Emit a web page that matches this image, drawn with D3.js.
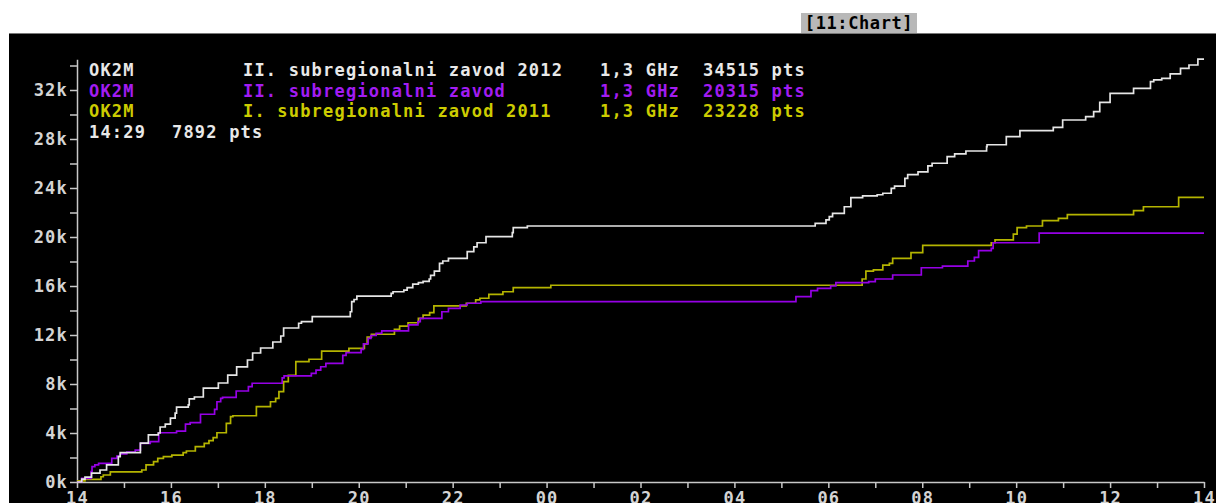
<!DOCTYPE html>
<html>
<head>
<meta charset="utf-8">
<script src="https://cdn.jsdelivr.net/npm/d3@7"></script>
<style>
  html, body { margin: 0; padding: 0; background: #fff; }
  svg { display: block; }
  text { font-family: "DejaVu Sans Mono", "Liberation Mono", monospace; }
</style>
</head>
<body>
<div id="chart"></div>
<script>
// time is in hours after 14:00, values in points
let xTickLabels = ["14", "16", "18", "20", "22", "00", "02", "04", "06", "08", "10", "12", "14"];
let yTicks = d3.range(0, 34001, 2000);

let calls = ["OK2M", "OK2M", "OK2M"];
let contests = ["II. subregionalni zavod 2012", "II. subregionalni zavod", "I. subregionalni zavod 2011"];
let bands = ["1,3 GHz", "1,3 GHz", "1,3 GHz"];
let totals = [34515, 20315, 23228];
let colors = ["#e6e6e6", "#9600e6", "#b4b400"];
let textColors = ["#e8e8e8", "#a21cf2", "#cccc00"];
let cursorLabel = ["14:29", "7892 pts"];

let series2012 = [[0,0],[0.1,240],[0.17,400],[0.31,730],[0.49,980],[0.63,1390],[0.88,2070],[0.92,2400],[1.35,3180],[1.52,3840],[1.73,4000],[1.77,4490],[1.88,4730],[1.99,5220],[2.09,5630],[2.12,6120],[2.37,6290],[2.39,6780],[2.5,6940],[2.69,7670],[3.01,8080],[3.21,8730],[3.4,9390],[3.63,9960],[3.74,10530],[3.91,10940],[4.17,11430],[4.34,11920],[4.4,12570],[4.72,12960],[4.78,13090],[5.01,13500],[5.82,13900],[5.85,14720],[5.9,14900],[5.96,15180],[6.69,15400],[6.73,15530],[6.96,15670],[7.03,15860],[7.15,16160],[7.27,16270],[7.37,16380],[7.5,16570],[7.53,16870],[7.61,17220],[7.72,17850],[7.79,18040],[7.91,18260],[8.31,18800],[8.45,19200],[8.52,19530],[8.71,20030],[9.27,20350],[9.29,20760],[9.59,20900],[15.72,21120],[15.95,21390],[16.02,21660],[16.09,21930],[16.34,22470],[16.48,23210],[16.73,23350],[17.04,23450],[17.16,23570],[17.34,23970],[17.41,24160],[17.63,24790],[17.69,25090],[17.91,25310],[18.12,25800],[18.21,26020],[18.53,26560],[18.69,26780],[18.93,27020],[19.37,27370],[19.38,27530],[19.79,28190],[20.08,28680],[20.79,28950],[20.99,29550],[21.48,29820],[21.65,30230],[21.78,30990],[22.0,31730],[22.5,32140],[22.86,32680],[22.93,32820],[23.1,32950],[23.28,33310],[23.5,33770],[23.68,34040],[23.87,34515],[24,34515]];

let seriesII = [[0,0],[0.1,300],[0.3,840],[0.32,1250],[0.38,1390],[0.46,1520],[0.74,1930],[0.85,2120],[0.92,2290],[1.06,2450],[1.24,2610],[1.35,3160],[1.56,3290],[1.74,4020],[2.12,4160],[2.31,4730],[2.41,4840],[2.63,5530],[2.93,5930],[2.98,6550],[3.06,6830],[3.1,6910],[3.39,7430],[3.65,7780],[3.73,8060],[4.37,8500],[4.41,8660],[4.99,8870],[5.09,9140],[5.19,9410],[5.3,9690],[5.66,10330],[5.73,10560],[6.05,10830],[6.1,11270],[6.2,11730],[6.26,11960],[6.37,12140],[6.49,12330],[7.06,12820],[7.26,13090],[7.31,13360],[7.77,13900],[7.91,14180],[8.16,14450],[8.31,14590],[8.6,14720],[15.31,15130],[15.63,15620],[15.77,15810],[16.05,16000],[16.16,16270],[16.86,16350],[17.0,16570],[17.37,16900],[17.98,17490],[18.43,17630],[18.97,18040],[19.11,18340],[19.2,18880],[19.47,19070],[19.51,19530],[20.49,20315],[24,20315]];

let series2011 = [[0,0],[0.02,100],[0.17,220],[0.51,430],[0.56,570],[0.71,820],[1.38,980],[1.47,1390],[1.63,1660],[1.72,1930],[1.84,2070],[2.02,2200],[2.26,2390],[2.33,2530],[2.52,2880],[2.71,3160],[2.81,3370],[2.9,3620],[2.98,4020],[3.18,4790],[3.27,5330],[3.32,5410],[3.82,6150],[4.12,6550],[4.23,6830],[4.3,7370],[4.4,8190],[4.5,8700],[4.66,9820],[4.94,10020],[5.21,10680],[5.79,10910],[6.12,11270],[6.18,11830],[6.27,12060],[6.76,12460],[6.87,12730],[7.05,13000],[7.27,13360],[7.37,13630],[7.51,13820],[7.6,14370],[8.29,14590],[8.49,14860],[8.58,15000],[8.77,15320],[9.07,15530],[9.29,15860],[10.09,16060],[16.72,16570],[16.8,17220],[16.96,17310],[17.16,17710],[17.3,17850],[17.37,18260],[17.76,18720],[18.01,19320],[19.47,19530],[19.55,19760],[19.94,20240],[20.02,20760],[20.22,20900],[20.56,21330],[20.9,21520],[21.09,21820],[22.5,22150],[22.71,22470],[23.46,23228],[24,23228]];

let allSeries = [series2012, seriesII, series2011];

let width = 1216;
let height = 503;

let svg = d3.select("#chart").append("svg")
  .attr("width", width)
  .attr("height", height);

// white title strip with the window tag
svg.append("rect").attr("x", 0).attr("y", 0).attr("width", width).attr("height", height).attr("fill", "#fff");
svg.append("rect").attr("x", 801).attr("y", 13).attr("width", 116).attr("height", 20).attr("fill", "#b8b8b8");
svg.append("text")
  .attr("x", 859).attr("y", 29)
  .attr("text-anchor", "middle")
  .attr("font-size", 17).attr("font-weight", "bold")
  .attr("letter-spacing", 0.6)
  .attr("fill", "#000")
  .text("[11:Chart]");

// black chart window
svg.append("rect").attr("x", 9).attr("y", 33).attr("width", width - 9).attr("height", height - 33).attr("fill", "#000");
svg.append("line").attr("x1", 9).attr("x2", width).attr("y1", 33.5).attr("y2", 33.5).attr("stroke", "#777");

let x = d3.scaleLinear().domain([0, 24]).range([77, 1204]);
let y = d3.scaleLinear().domain([0, d3.max(totals)]).range([482, 482 - 34.515 * 12.25]);

let fontSize = 17;
let spacing = 1.2;

let xAxis = d3.axisBottom(x)
  .tickValues(d3.range(0, 25, 1))
  .tickSizeInner(6).tickSizeOuter(0).tickPadding(4)
  .tickFormat(d => d % 2 === 0 ? xTickLabels[d / 2] : "");

let yAxis = d3.axisLeft(y)
  .tickValues(yTicks)
  .tickSizeInner(7).tickSizeOuter(0).tickPadding(2)
  .tickFormat(d => d % 4000 === 0 ? (d / 1000) + "k" : "");

function styleAxis(g) {
  g.select(".domain").attr("stroke", "#c8c8c8").attr("stroke-width", 1.5);
  g.selectAll(".tick line").attr("stroke", "#c8c8c8").attr("stroke-width", 1.5);
  g.selectAll(".tick text")
    .attr("fill", "#d4d4d4")
    .attr("font-size", fontSize)
    .attr("font-weight", "bold")
    .attr("letter-spacing", spacing)
    .attr("font-family", "DejaVu Sans Mono");
}

svg.append("g").attr("transform", "translate(0,482)").call(xAxis).call(styleAxis);
svg.append("g").attr("transform", "translate(77,0)").call(yAxis).call(styleAxis);

let line = d3.line()
  .x(d => x(d[0]))
  .y(d => y(d[1]))
  .curve(d3.curveStepAfter);

// draw the oldest underneath
[2, 1, 0].forEach(i => {
  svg.append("path")
    .datum(allSeries[i])
    .attr("d", line)
    .attr("fill", "none")
    .attr("stroke", colors[i])
    .attr("stroke-width", 1.7);
});

// legend rows
let legend = svg.append("g")
  .attr("font-size", fontSize)
  .attr("font-weight", "bold")
  .attr("letter-spacing", spacing);

calls.forEach((c, i) => {
  let row = legend.append("g")
    .attr("transform", `translate(0,${76 + i * 20.5})`)
    .attr("fill", textColors[i]);
  row.append("text").attr("x", 89).text(c);
  row.append("text").attr("x", 243).text(contests[i]);
  row.append("text").attr("x", 600).text(bands[i]);
  row.append("text").attr("x", 703).text(totals[i] + " pts");
});

let cur = legend.append("g")
  .attr("transform", `translate(0,${76 + 3 * 20.5})`)
  .attr("fill", "#e8e8e8");
cur.append("text").attr("x", 89).text(cursorLabel[0]);
cur.append("text").attr("x", 172).text(cursorLabel[1]);
</script>
</body>
</html>
